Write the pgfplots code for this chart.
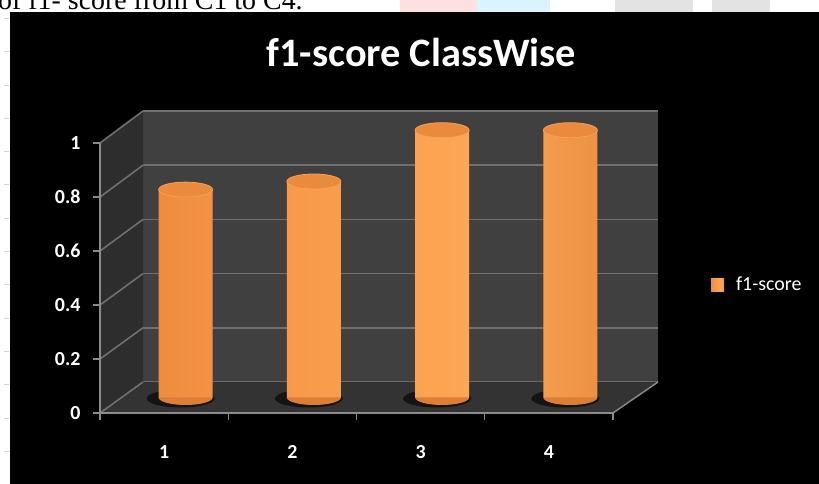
\documentclass[border=0pt]{standalone}
\usepackage{pgfplots}
\pgfplotsset{compat=1.18}
\usepackage{pgfplotstable}
\usepackage{fontspec}
\setmainfont{Carlito}
\newfontfamily\serif{Liberation Serif}
\definecolor{bwall}{HTML}{404040}
\definecolor{lwall}{HTML}{2D2D2D}
\definecolor{floorc}{HTML}{333333}
\definecolor{gridc}{HTML}{707070}
\definecolor{axc}{HTML}{8C8C8C}
\definecolor{orA}{HTML}{DE7E36}
\definecolor{orB}{HTML}{F79646}
\definecolor{orC}{HTML}{FCA856}
\definecolor{orD}{HTML}{BC662C}
\definecolor{ortop}{HTML}{E98A3C}
\pgfdeclarehorizontalshading{cyl}{100bp}{color(0bp)=(orD); color(10bp)=(orA); color(35bp)=(orB); color(62bp)=(orC); color(86bp)=(orA); color(100bp)=(orD)}
\pgfdeclareplotmark{cyltop}{\pgfpathellipse{\pgfpointorigin}{\pgfpoint{27bp}{0bp}}{\pgfpoint{0bp}{7.5bp}}\pgfusepathqfillstroke}
\pgfdeclareplotmark{cylbot}{%
  \pgfpathmoveto{\pgfpoint{-27bp}{0.5bp}}%
  \pgfpathlineto{\pgfpoint{-27bp}{0bp}}%
  \pgfpatharc{180}{360}{27bp and 7.5bp}%
  \pgfpathlineto{\pgfpoint{27bp}{0.5bp}}%
  \pgfpathclose\pgfusepathqfill}
\pgfdeclareplotmark{cylshadow}{%
  \pgfpathellipse{\pgfpoint{-5bp}{-1bp}}{\pgfpoint{34bp}{0bp}}{\pgfpoint{0bp}{9bp}}\pgfusepathqfill}
\pgfplotstableread{
x y
1 0.77
2 0.80
3 0.99
4 0.99
}\data
\begin{document}
\begin{tikzpicture}
\clip (0bp,0bp) rectangle (819bp,484bp);
\fill[white] (0bp,0bp) rectangle (819bp,484bp);
% watermark traces in the top strip
\fill[red!12] (400bp,470bp) rectangle (477bp,484bp);
\fill[cyan!14] (477bp,470bp) rectangle (550bp,484bp);
\fill[gray!22] (615bp,470bp) rectangle (693bp,484bp);
\fill[gray!22] (712bp,470bp) rectangle (770bp,484bp);
\node[anchor=base west, inner sep=0pt] at (-2bp,474bp) {\serif\fontsize{28}{30}\selectfont of f1- score from C1 to C4.};
\foreach \k in {0,...,14} \draw[blue!15!gray!30, line width=1bp] (4bp,{(484-18.5-33.3*\k)*1bp}) -- (9bp,{(484-18.5-33.3*\k)*1bp});
\fill[black] (10bp,0bp) rectangle (819bp,472bp);
% title
\node[anchor=base, text=white, inner sep=0pt] at (421.5bp,417bp) {\fontsize{40.5}{42}\selectfont\bfseries f1-score ClassWise};
% back wall
\begin{axis}[at={(143bp,102bp)}, anchor=south west, scale only axis,
  width=515bp, height=271bp, xmin=0, xmax=1, ymin=0, ymax=1,
  axis background/.style={fill=bwall},
  axis line style={draw=none}, xtick=\empty, ytick={0,0.2,0.4,0.6,0.8,1},
  yticklabels={}, major tick length=0pt,
  ymajorgrids, major grid style={gridc, line width=1.6bp}]
\end{axis}
% left wall and floor
\fill[lwall] (100bp,71bp) -- (143bp,102bp) -- (143bp,373bp) -- (100bp,341bp) -- cycle;
\fill[floorc] (100bp,71bp) -- (613bp,71bp) -- (658bp,102bp) -- (143bp,102bp) -- cycle;
\foreach \v in {0,0.2,0.4,0.6,0.8,1} \draw[gridc, line width=1.6bp] (100bp,{(71+270*\v)*1bp}) -- (143bp,{(102+271*\v)*1bp});
\draw[axc, line width=1.4bp] (613bp,71bp) -- (658bp,102bp);
% bars
\begin{axis}[at={(121.5bp,86.5bp)}, anchor=south west, scale only axis,
  width=513bp, height=270bp, xmin=0.5, xmax=4.5, ymin=0, ymax=1,
  hide axis, clip=false, clip marker paths=true,
  legend style={at={(1.149,0.417)}, anchor=west, fill=none, draw=none,
    text=white, font=\fontsize{20}{20}\selectfont, inner sep=0pt},
  legend cell align=left]
\addplot[only marks, mark=cylshadow, mark options={fill=black!60!floorc, draw=none}, forget plot] table[x=x, y expr=0]{\data};
\addplot[only marks, mark=cylbot, mark options={fill=orA, draw=none}, forget plot] table[x=x, y expr=0]{\data};
\addplot[ybar, bar width=54bp, bar shift=0pt, draw=none, shade, shading=cyl,
  legend image code/.code={\fill[orB] (0bp,-6.5bp) rectangle (13bp,6.5bp);}]
  table[x=x, y=y]{\data};
\addlegendentry{\hspace{10bp}f1-score}
\addplot[only marks, mark=cyltop, mark options={fill=ortop, draw=orC!80!ortop, line width=0.8bp}, forget plot] table[x=x, y=y]{\data};
\end{axis}
% front axis
\begin{axis}[at={(100bp,71bp)}, anchor=south west, scale only axis,
  width=513bp, height=270bp, xmin=0.5, xmax=4.5, ymin=0, ymax=1,
  axis x line*=bottom, axis y line*=left,
  axis line style={axc, line width=1.4bp},
  xtick={0.5,1.5,2.5,3.5,4.5}, xticklabels={},
  extra x ticks={1,2,3,4}, extra x tick labels={1,2,3,4},
  extra x tick style={major tick length=0pt},
  ytick={0,0.2,0.4,0.6,0.8,1},
  tick align=outside, major tick length=7bp,
  tick style={axc, line width=1.4bp},
  /pgf/number format/assume math mode=true,
  ticklabel style={text=white, font=\fontsize{20}{20}\selectfont\bfseries},
  x tick label style={yshift=-29bp},
  y tick label style={xshift=-9bp}]
\end{axis}
\end{tikzpicture}
\end{document}
